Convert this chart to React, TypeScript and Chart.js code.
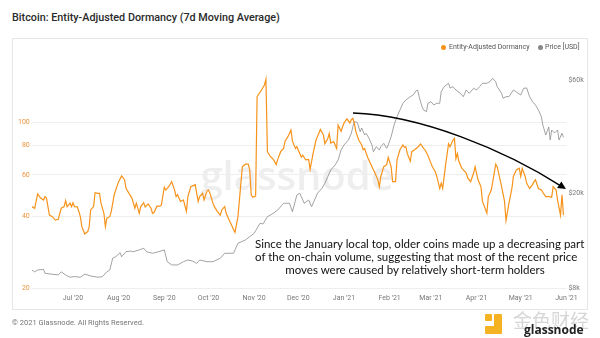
import React, { useEffect, useRef } from "react";
import { Chart, registerables } from "chart.js";

Chart.register(...registerables);

const TITLE = "Bitcoin: Entity-Adjusted Dormancy (7d Moving Average)";
const SERIES_DORM = "Entity-Adjusted Dormancy";
const SERIES_PRICE = "Price [USD]";
const FOOTER = "© 2021 Glassnode. All Rights Reserved.";

// x values are days since 2020-06-01
const dormDays = [2,4,6,8,10,11,12,14,16,18,20,22,24,25,26,28,29,30,31,33,35,36,38,40,41,42,44,45,47,48,49,51,52,53,55,56,58,59,61,63,65,66,67,70,72,73,75,76,78,79,81,83,84,85,87,89,90,92,93,95,97,99,100,101,103,105,107,108,110,113,114,115,116,118,119,121,122,123,125,126,128,130,131,133,134,136,137,139,140,142,144,145,147,149,150,151,152,154,155,158,160,161,162,164,166,168,169,171,173,174,176,178,179,181,182,185,186,188,190,191,193,195,196,198,200,201,203,204,205,207,209,210,212,213,214,216,218,219,220,221,222,224,226,227,228,230,233,235,237,238,239,241,243,244,246,247,249,250,252,254,255,256,257,259,260,262,264,266,268,269,271,273,274,276,277,279,280,281,283,285,286,288,289,290,291,292,294,295,297,298,300,302,303,305,307,308,311,312,314,316,317,318,320,321,323,324,326,328,329,331,333,334,335,337,338,340,342,343,344,346,348,350,351,353,355,356,358,359,361,362,363];
const dormValues = [44.1,43.4,49.9,47.9,47.0,48.6,47.9,40.6,40.0,38.7,39.0,43.4,44.1,46.8,44.1,45.6,44.1,45.8,44.1,44.0,40.0,36.3,33.8,34.6,36.3,42.7,44.1,50.5,50.2,50.2,45.6,41.3,36.3,39.4,40.0,42.1,49.5,51.8,56.2,59.4,57.3,52.7,51.4,47.9,43.4,45.6,41.3,44.1,45.8,44.0,45.3,43.4,41.3,41.6,44.3,44.3,44.8,53.3,51.8,53.5,56.2,51.8,48.6,49.5,46.4,47.0,42.1,48.6,53.5,54.6,50.2,46.4,48.6,50.2,47.0,51.4,51.8,50.2,45.6,44.1,42.1,40.6,42.7,44.1,41.3,38.7,37.6,35.3,34.3,40.0,55.4,65.0,66.6,66.6,63.0,49.5,48.3,48.9,128.3,136.9,143.8,152.0,75.2,71.8,69.8,66.3,69.8,75.2,77.6,83.3,87.2,92.8,83.3,77.6,78.9,71.3,72.6,69.4,69.8,63.3,73.8,84.2,87.2,93.3,88.4,81.3,85.5,89.7,81.7,83.0,77.6,97.4,91.6,95.6,99.4,103.5,99.4,102.6,104.0,99.4,91.6,84.2,80.3,76.6,77.6,71.3,65.0,61.1,57.2,53.5,59.1,65.0,66.3,71.1,65.0,56.2,56.2,69.4,76.6,80.3,78.5,78.9,73.8,68.5,75.2,76.6,78.5,81.0,77.6,76.6,72.5,67.3,65.0,61.9,59.1,52.6,55.4,52.6,66.3,81.2,78.9,84.2,85.6,70.2,73.8,68.5,64.0,63.0,61.1,58.3,56.2,61.1,65.0,57.2,53.5,46.4,41.4,48.6,51.8,61.1,66.6,65.0,57.2,53.5,46.4,38.5,45.6,52.6,59.1,63.0,64.0,59.1,64.0,59.1,55.4,52.6,54.6,56.2,57.2,52.6,51.8,49.5,48.6,48.6,48.3,53.5,51.8,47.0,40.6,49.5,40.6];

const priceDays = [2,4,6,10,11,15,20,22,25,28,31,35,38,42,47,50,53,55,57,59,62,63,66,69,71,75,78,80,84,88,92,94,97,101,105,108,111,114,116,121,125,130,133,136,139,142,147,150,153,157,159,162,166,169,173,175,177,179,182,184,187,190,192,194,196,199,201,203,205,208,210,212,214,217,219,220,221,223,225,226,228,229,231,233,234,236,238,239,241,243,244,246,248,250,252,254,256,259,261,263,264,265,267,268,270,271,273,275,277,279,280,282,285,286,288,290,293,295,297,299,302,304,306,308,311,313,315,317,318,321,322,324,326,329,331,334,336,338,340,342,344,346,348,349,351,353,354,355,357,359,360,362,363];
const priceValues = [9530,9360,9530,9590,9230,9160,9080,9360,9080,8880,8940,8880,9160,8990,8880,8940,9360,9530,10710,10840,11270,10840,11380,11450,11380,11580,11770,11380,11210,11380,11580,10330,10010,10010,10330,10500,10400,10170,10500,10330,10330,10680,11210,11210,11210,12350,12750,13170,13610,15000,14900,16000,16530,17070,18220,18220,18220,16790,19750,20080,18220,18800,17630,18800,20080,21070,22120,23590,25180,26430,27740,30570,32100,33700,35960,38350,40240,40000,36530,37860,35370,35960,34260,32100,30070,31580,30570,31580,32620,31090,32100,34790,38980,42260,45100,48140,49700,51330,52180,54400,54770,51330,46570,45100,44360,48140,48880,47340,48140,48140,53870,56560,58460,55860,56560,54770,53030,51330,54770,53030,55690,54770,56560,58460,58460,59360,61360,59360,56560,53030,50540,51330,51330,54770,53710,52180,55690,55860,51330,48880,47340,45100,42260,38980,35370,38230,33700,37140,36080,37140,33700,35960,34600];

const monthTickDays = [30,61,92,122,153,183,214,245,273,304,334,365];
const monthTickLabels = ["Jul '20","Aug '20","Sep '20","Oct '20","Nov '20","Dec '20","Jan '21","Feb '21","Mar '21","Apr '21","May '21","Jun '21"];
const dormTicks = [20,40,60,80,100];
const priceTicks = [8000,20000,60000];
const priceTickLabels = ["$8k","$20k","$60k"];

// annotation arrow (cubic curve) in data units: day / dormancy
const arrowDays = [220.1, 265.6, 323.3, 364.7];
const arrowDorm = [109.5, 107.4, 76.4, 52.3];
const annotationLines = [
  "Since the January local top, older coins made up a decreasing part",
  "of the on-chain volume, suggesting that most of the recent price",
  "moves were caused by relatively short-term holders",
];

const ORANGE = "#f7931a";
const GRAY = "#8c8c8c";
const LOG_SPAN = Math.pow(10, 226 / 237);

const overlayPlugin = {
  id: "overlay",
  beforeDatasetsDraw(chart: any) {
    const { ctx, chartArea } = chart;
    ctx.save();
    ctx.font = '600 40px "Open Sans"';
    ctx.fillStyle = "#eeeeee";
    ctx.textAlign = "center";
    ctx.textBaseline = "alphabetic";
    ctx.fillText("glassnode", (chartArea.left + chartArea.right) / 2 - 2, chartArea.top + 0.566 * (chartArea.bottom - chartArea.top));
    ctx.restore();
  },
  afterDatasetsDraw(chart: any) {
    const { ctx } = chart;
    const xs = chart.scales.x;
    const ys = chart.scales.y;
    const p = arrowDays.map((d, i) => ({ x: xs.getPixelForValue(d), y: ys.getPixelForValue(arrowDorm[i]) }));
    ctx.save();
    ctx.strokeStyle = "#000";
    ctx.lineWidth = 1.5;
    ctx.beginPath();
    ctx.moveTo(p[0].x, p[0].y);
    ctx.bezierCurveTo(p[1].x, p[1].y, p[2].x, p[2].y, p[3].x - 4, p[3].y - 2.5);
    ctx.stroke();
    const ang = Math.atan2(p[3].y - p[2].y, p[3].x - p[2].x);
    const L = 8, W = 4;
    ctx.fillStyle = "#000";
    ctx.beginPath();
    ctx.moveTo(p[3].x, p[3].y);
    ctx.lineTo(p[3].x - L * Math.cos(ang) + W * Math.sin(ang), p[3].y - L * Math.sin(ang) - W * Math.cos(ang));
    ctx.lineTo(p[3].x - L * Math.cos(ang) - W * Math.sin(ang), p[3].y - L * Math.sin(ang) + W * Math.cos(ang));
    ctx.closePath();
    ctx.fill();
    ctx.restore();
  },
};

export default function App() {
  const canvasRef = useRef<HTMLCanvasElement | null>(null);

  useEffect(() => {
    document.body.style.margin = "0";
    const canvas = canvasRef.current;
    if (!canvas) return;
    const chart = new Chart(canvas, {
      type: "line",
      data: {
        datasets: [
          {
            label: SERIES_DORM,
            data: dormDays.map((d, i) => ({ x: d, y: dormValues[i] })),
            borderColor: ORANGE,
            backgroundColor: ORANGE,
            borderWidth: 1.2,
            pointRadius: 0,
            tension: 0,
            yAxisID: "y",
          },
          {
            label: SERIES_PRICE,
            data: priceDays.map((d, i) => ({ x: d, y: priceValues[i] })),
            borderColor: GRAY,
            backgroundColor: GRAY,
            borderWidth: 0.8,
            pointRadius: 0,
            tension: 0,
            yAxisID: "y1",
          },
        ],
      },
      options: {
        animation: false,
        responsive: false,
        maintainAspectRatio: false,
        devicePixelRatio: 1,
        layout: { padding: { top: 62, left: 0, right: 0, bottom: 0 } },
        plugins: { legend: { display: false }, tooltip: { enabled: false }, title: { display: false } },
        scales: {
          x: {
            type: "linear",
            min: 2,
            max: 365,
            grid: { display: false, drawTicks: false },
            border: { display: false },
            afterBuildTicks: (s: any) => { s.ticks = monthTickDays.map((v) => ({ value: v })); },
            afterFit: (s: any) => { s.height = 50; },
            ticks: {
              autoSkip: false,
              maxRotation: 0,
              padding: 6,
              color: "#777",
              font: { family: "Roboto", size: 7 },
              callback: (v: any) => monthTickLabels[monthTickDays.indexOf(Number(v))],
            },
          },
          y: {
            type: "logarithmic",
            position: "left",
            min: 20,
            max: 20 * LOG_SPAN,
            grid: { color: "#eeeeee", drawTicks: false, lineWidth: 1 },
            border: { display: false },
            afterBuildTicks: (s: any) => { s.ticks = dormTicks.map((v) => ({ value: v })); },
            afterFit: (s: any) => { s.width = 31.75; },
            ticks: {
              padding: 2,
              color: "#e9953f",
              font: { family: "Roboto", size: 7 },
              callback: (v: any) => String(v),
            },
          },
          y1: {
            type: "logarithmic",
            position: "right",
            min: 8000,
            max: 8000 * LOG_SPAN,
            grid: { display: false, drawTicks: false },
            border: { display: false },
            afterBuildTicks: (s: any) => { s.ticks = priceTicks.map((v) => ({ value: v })); },
            afterFit: (s: any) => { s.width = 33.6; },
            ticks: {
              padding: 2,
              color: "#777",
              font: { family: "Roboto", size: 7 },
              callback: (v: any) => priceTickLabels[priceTicks.indexOf(Number(v))],
            },
          },
        },
      },
      plugins: [overlayPlugin],
    } as any);
    return () => chart.destroy();
  }, []);

  const abs = (o: React.CSSProperties): React.CSSProperties => ({ position: "absolute", ...o });

  return (
    <div style={{ position: "relative", width: 600, height: 338, background: "#fff", overflow: "hidden", fontFamily: "Roboto" }}>
      <div style={abs({ left: 12, top: 11, fontSize: 10.8, lineHeight: "14px", color: "#2a2a2a", fontWeight: 500, whiteSpace: "nowrap" })}>{TITLE}</div>
      <div style={abs({ left: 12, top: 38, width: 576, height: 272, border: "1px solid #e6e6e6", boxSizing: "border-box" })} />
      <canvas ref={canvasRef} width={600} height={338} style={abs({ left: 0, top: 0, width: 600, height: 338 })} />
      <div style={abs({ left: 440.5, top: 44.5, width: 5, height: 5, borderRadius: "50%", background: ORANGE })} />
      <div style={abs({ left: 449, top: 43, fontSize: 7, lineHeight: "8px", color: "#555", whiteSpace: "nowrap" })}>{SERIES_DORM}</div>
      <div style={abs({ left: 537.5, top: 44.5, width: 5, height: 5, borderRadius: "50%", background: "#888" })} />
      <div style={abs({ left: 545, top: 43, fontSize: 7, lineHeight: "8px", color: "#555", whiteSpace: "nowrap" })}>{SERIES_PRICE}</div>
      <div style={abs({ left: 255, top: 236.5, width: 320, textAlign: "center", fontFamily: "Lato", fontSize: 11.5, lineHeight: "13px", color: "#111", whiteSpace: "nowrap" })}>
        {annotationLines.map((l, i) => (<div key={i}>{l}</div>))}
      </div>
      <div style={abs({ left: 12, top: 318, fontSize: 7.5, lineHeight: "10px", color: "#777", whiteSpace: "nowrap" })}>{FOOTER}</div>
      <div style={abs({ left: 485, top: 314, width: 7, height: 7, background: "#f5b324", borderRadius: 1 })} />
      <div style={abs({ left: 494, top: 314, width: 8, height: 20, background: "#f5b324", borderRadius: 1 })} />
      <div style={abs({ left: 485, top: 326, width: 17, height: 8, background: "#f5b324", borderRadius: 1 })} />
      <div style={abs({ left: 513, top: 309, fontFamily: "Noto Sans CJK SC", fontSize: 19, lineHeight: "22px", color: "#d6d6d6", whiteSpace: "nowrap" })}>金色财经</div>
      <div style={abs({ left: 524, top: 323, fontFamily: "Open Sans", fontWeight: 700, fontSize: 12, lineHeight: "14px", color: "#222", whiteSpace: "nowrap" })}>glassnode</div>
    </div>
  );
}
